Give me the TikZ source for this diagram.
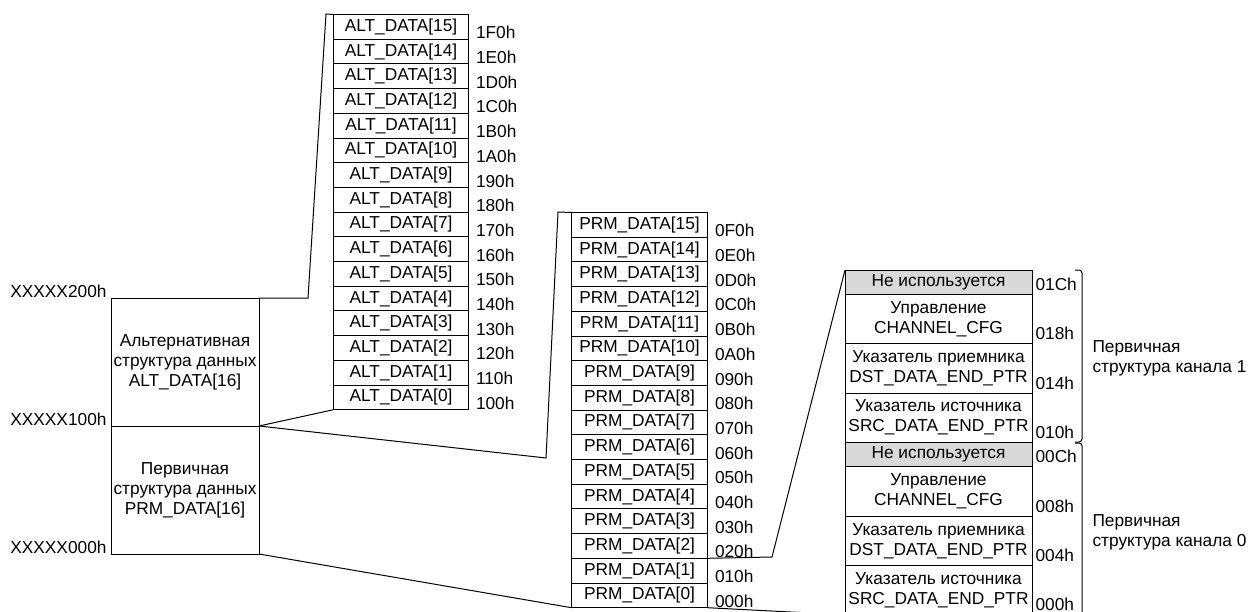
\documentclass[tikz,border=0pt]{standalone}
\usepackage{fontspec}
\setmainfont{Liberation Sans}
\usetikzlibrary{matrix}

\begin{document}
\begin{tikzpicture}[x=1pt, y=-1pt, line width=1pt, every node/.style={font=\fontsize{17.3}{20}\selectfont},
	slot/.style={draw, anchor=center, minimum height=24.7pt, text height=12.5pt, text depth=3.5pt, inner sep=1pt},
	addr/.style={inner sep=0pt, text height=12pt, text depth=0pt},
	blk/.style={draw, minimum width=148pt, minimum height=128pt, align=center, inner sep=0pt, outer sep=0pt},
	chan/.style={draw, minimum width=187pt, minimum height=49.3pt, align=center, inner sep=1pt, outer sep=0pt},
	unused/.style={chan, fill=black!15, minimum height=24.5pt},
	chaddr/.style={addr, anchor=base west, xshift=3pt, yshift=4pt}]
	\useasboundingbox (0,0) rectangle (1252,612);
	\node[blk, anchor=north west] (altblk) at (111,298) {Альтернативная\\структура данных\\ALT\_DATA[16]};
	\node[blk, anchor=north] (prmblk) at (altblk.south) {Первичная\\структура данных\\PRM\_DATA[16]};
	\node[anchor=base east, inner sep=0pt, xshift=-4pt, yshift=1pt] (a200) at (altblk.north west) {XXXXX200h};
	\node[anchor=base east, inner sep=0pt, xshift=-4pt, yshift=1pt] (a100) at (altblk.south west) {XXXXX100h};
	\node[anchor=base east, inner sep=0pt, xshift=-4pt, yshift=1pt] (a000) at (prmblk.south west) {XXXXX000h};
	\matrix (alt) [matrix of nodes, anchor=north west, inner sep=0pt, outer sep=0pt, column sep=7pt, row sep=-\pgflinewidth, column 1/.style={nodes={slot, minimum width=135pt}}, column 2/.style={nodes={addr, anchor=west, yshift=-6pt}}] at (333,14) {
		ALT\_DATA[15] & 1F0h \\
		ALT\_DATA[14] & 1E0h \\
		ALT\_DATA[13] & 1D0h \\
		ALT\_DATA[12] & 1C0h \\
		ALT\_DATA[11] & 1B0h \\
		ALT\_DATA[10] & 1A0h \\
		ALT\_DATA[9] & 190h \\
		ALT\_DATA[8] & 180h \\
		ALT\_DATA[7] & 170h \\
		ALT\_DATA[6] & 160h \\
		ALT\_DATA[5] & 150h \\
		ALT\_DATA[4] & 140h \\
		ALT\_DATA[3] & 130h \\
		ALT\_DATA[2] & 120h \\
		ALT\_DATA[1] & 110h \\
		ALT\_DATA[0] & 100h \\
	};
	\matrix (prm) [matrix of nodes, anchor=north west, inner sep=0pt, outer sep=0pt, column sep=7pt, row sep=-\pgflinewidth, column 1/.style={nodes={slot, minimum width=136pt}}, column 2/.style={nodes={addr, anchor=west, yshift=-6pt}}] at (571,212) {
		PRM\_DATA[15] & 0F0h \\
		PRM\_DATA[14] & 0E0h \\
		PRM\_DATA[13] & 0D0h \\
		PRM\_DATA[12] & 0C0h \\
		PRM\_DATA[11] & 0B0h \\
		PRM\_DATA[10] & 0A0h \\
		PRM\_DATA[9] & 090h \\
		PRM\_DATA[8] & 080h \\
		PRM\_DATA[7] & 070h \\
		PRM\_DATA[6] & 060h \\
		PRM\_DATA[5] & 050h \\
		PRM\_DATA[4] & 040h \\
		PRM\_DATA[3] & 030h \\
		PRM\_DATA[2] & 020h \\
		PRM\_DATA[1] & 010h \\
		PRM\_DATA[0] & 000h \\
	};
	\node[unused, anchor=north west] (c1un) at (845,270) {Не используется};
	\node[chan, anchor=north] (c1ctrl) at (c1un.south) {Управление\\CHANNEL\_CFG};
	\node[chan, anchor=north] (c1dst) at (c1ctrl.south) {Указатель приемника\\DST\_DATA\_END\_PTR};
	\node[chan, anchor=north] (c1src) at (c1dst.south) {Указатель источника\\SRC\_DATA\_END\_PTR};
	\node[unused, anchor=north] (c0un) at (c1src.south) {Не используется};
	\node[chan, anchor=north] (c0ctrl) at (c0un.south) {Управление\\CHANNEL\_CFG};
	\node[chan, anchor=north] (c0dst) at (c0ctrl.south) {Указатель приемника\\DST\_DATA\_END\_PTR};
	\node[chan, anchor=north] (c0src) at (c0dst.south) {Указатель источника\\SRC\_DATA\_END\_PTR};
	\node[chaddr] (a01c) at (c1un.south east) {01Ch};
	\node[chaddr] (a018) at (c1ctrl.south east) {018h};
	\node[chaddr] (a014) at (c1dst.south east) {014h};
	\node[chaddr] (a010) at (c1src.south east) {010h};
	\node[chaddr] (a00c) at (c0un.south east) {00Ch};
	\node[chaddr] (a008) at (c0ctrl.south east) {008h};
	\node[chaddr] (a004) at (c0dst.south east) {004h};
	\node[chaddr] (a000h) at (c0src.south east) {000h};
	\draw[rounded corners=3pt] (1075,270) -| (1082,442) -- (1075,442);
	\draw[rounded corners=3pt] (1075,443) -| (1082,616) -- (1075,616);
	\node[anchor=west, align=left, inner sep=0pt] (ch1) at (1092,358) {Первичная\\структура канала 1};
	\node[anchor=west, align=left, inner sep=0pt] (ch0) at (1092,532) {Первичная\\структура канала 0};
	\coordinate (altlo) at (308,298);
	\coordinate (althi) at (326,14);
	\coordinate (prmlo) at (546,458);
	\coordinate (prmhi) at (558,212);
	\coordinate (chlo) at (772,557);
	\draw (altblk.north east) -- (altlo) -- (althi) -- (alt-1-1.north west);
	\draw (altblk.south east) -- (alt-16-1.south west);
	\draw (prmblk.north east) -- (prmlo) -- (prmhi) -- (prm-1-1.north west);
	\draw (prmblk.south east) -- (prm-16-1.south west);
	\draw (prm-14-1.south east) -- (chlo) -- (c1un.north west);
	\draw (prm-16-1.south east) -- (c0src.south west);
\end{tikzpicture}
\end{document}
